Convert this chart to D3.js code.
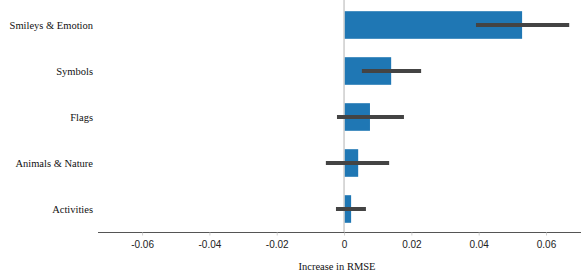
<!DOCTYPE html>
<html>
<head>
<meta charset="utf-8">
<script src="https://cdn.jsdelivr.net/npm/d3@7"></script>
<style>
  body { margin: 0; background: #fff; }
  svg { display: block; }
</style>
</head>
<body>
<div id="chart"></div>
<script>
(() => {

  // feature groups, top to bottom
  let categories = ['Smileys & Emotion', 'Symbols', 'Flags', 'Animals & Nature', 'Activities'];
  // mean increase in RMSE
  let importance = [0.0529, 0.0140, 0.0077, 0.0042, 0.0021];
  // error bar ends
  let errLow = [0.0392, 0.0053, -0.0021, -0.0054, -0.0024];
  let errHigh = [0.0669, 0.0229, 0.0178, 0.0134, 0.0065];
  let xTicks = [-0.06, -0.04, -0.02, 0, 0.02, 0.04, 0.06];

  let width = 581;
  let height = 278;
  let axisY = 232.5;

  let data = categories.map((c, i) => ({
    name: c, value: importance[i], lo: errLow[i], hi: errHigh[i]
  }));

  let svg = d3.select('#chart')
    .append('svg')
    .attr('width', width)
    .attr('height', height);

  let xScale = d3.scaleLinear()
    .domain([-0.0731, 0.0704])
    .range([98, 581]);

  let yScale = d3.scaleBand()
    .domain(categories)
    .range([2, 232])
    .paddingInner(0.4)
    .paddingOuter(0.2);

  // zero reference line
  svg.append('line')
    .attr('x1', xScale(0)).attr('x2', xScale(0))
    .attr('y1', 0).attr('y2', axisY)
    .attr('stroke', '#cccccc')
    .attr('stroke-width', 1.5);

  // bars
  svg.selectAll('.bar')
    .data(data)
    .enter()
    .append('rect')
    .attr('class', 'bar')
    .attr('x', d => xScale(Math.min(0, d.value)) + 0.75)
    .attr('y', d => yScale(d.name))
    .attr('width', d => Math.abs(xScale(d.value) - xScale(0)) - 0.75)
    .attr('height', yScale.bandwidth())
    .style('fill', '#1f77b4');

  // error bars
  svg.selectAll('.err')
    .data(data)
    .enter()
    .append('line')
    .attr('class', 'err')
    .attr('x1', d => xScale(d.lo))
    .attr('x2', d => xScale(d.hi))
    .attr('y1', d => yScale(d.name) + yScale.bandwidth() / 2)
    .attr('y2', d => yScale(d.name) + yScale.bandwidth() / 2)
    .attr('stroke', '#444444')
    .attr('stroke-width', 4);

  // category labels
  svg.selectAll('.cat')
    .data(data)
    .enter()
    .append('text')
    .attr('class', 'cat')
    .attr('x', 93)
    .attr('y', d => yScale(d.name) + yScale.bandwidth() / 2)
    .attr('dy', '0.35em')
    .attr('text-anchor', 'end')
    .style('font-family', '"Liberation Serif", "DejaVu Serif", serif')
    .style('font-size', '10.5px')
    .style('fill', '#111')
    .text(d => d.name);

  // x axis
  let xAxis = d3.axisBottom(xScale)
    .tickValues(xTicks)
    .tickSize(3)
    .tickPadding(5)
    .tickFormat(d => d === 0 ? '0' : d3.format('.2f')(d).replace('−', '-'));

  let gx = svg.append('g')
    .attr('transform', `translate(0, ${axisY})`)
    .call(xAxis);

  gx.select('.domain')
    .attr('stroke', '#555')
    .attr('d', `M98,0H581`);
  gx.selectAll('.tick line').attr('stroke', '#d0d0d0');
  gx.selectAll('.tick text')
    .style('font-family', '"Liberation Sans", Arial, sans-serif')
    .style('font-size', '10px')
    .style('fill', '#222');

  // axis title
  svg.append('text')
    .attr('x', 337)
    .attr('y', 270)
    .attr('text-anchor', 'middle')
    .style('font-family', '"Liberation Serif", "DejaVu Serif", serif')
    .style('font-size', '10.5px')
    .style('fill', '#111')
    .text('Increase in RMSE');

})();
</script>
</body>
</html>
